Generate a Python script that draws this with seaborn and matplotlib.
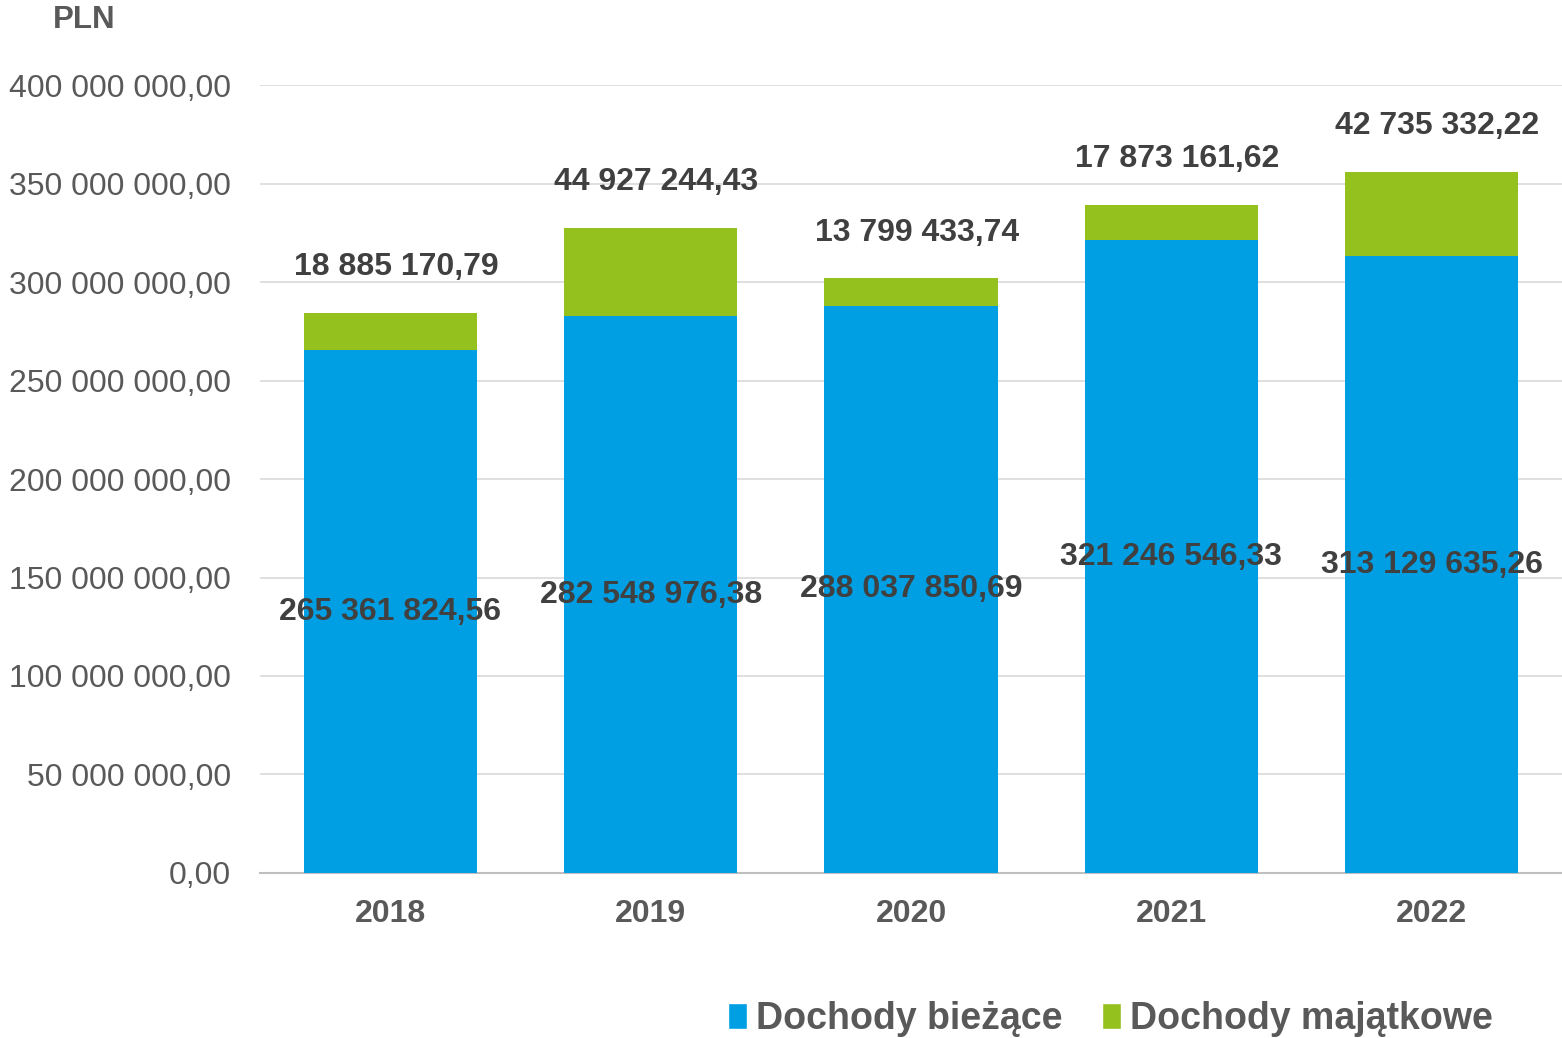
import numpy as np
import pandas as pd
import matplotlib
matplotlib.use('Agg')
import matplotlib.pyplot as plt
import seaborn as sns
from matplotlib.patches import Patch

years = ['2018', '2019', '2020', '2021', '2022']
biezace = [265361824.56, 282548976.38, 288037850.69, 321246546.33, 313129635.26]
majatkowe = [18885170.79, 44927244.43, 13799433.74, 17873161.62, 42735332.22]
yticks = [0, 50e6, 100e6, 150e6, 200e6, 250e6, 300e6, 350e6, 400e6]

BLUE = '#009FE3'
GREEN = '#95C11F'
GREY = '#595959'
DARK = '#404040'

def pl_fmt(v):
    s = f'{v:,.2f}'
    return s.replace(',', ' ').replace('.', ',')

df = pd.DataFrame({'rok': years, 'biezace': biezace, 'majatkowe': majatkowe})
df['suma'] = df['biezace'] + df['majatkowe']

sns.set_style('white')
plt.rcParams['font.family'] = ['Liberation Sans', 'DejaVu Sans']

fig = plt.figure(figsize=(15.62, 10.38), dpi=100)
ax = fig.add_axes([0.1665, 0.159, 0.8335, 0.759])

# stacked: total first (green), current on top of it (blue)
sns.barplot(data=df, x='rok', y='suma', color=GREEN, width=0.665, saturation=1,
            linewidth=0, ax=ax, zorder=2)
sns.barplot(data=df, x='rok', y='biezace', color=BLUE, width=0.665, saturation=1,
            linewidth=0, ax=ax, zorder=3)

ax.set_ylim(0, 400e6)
ax.set_xlim(-0.5, 4.5)
ax.set_yticks(yticks)
ax.set_yticklabels([pl_fmt(v) for v in yticks], fontsize=23, color=GREY)
ax.tick_params(axis='y', length=0, pad=21)
ax.tick_params(axis='x', length=0, pad=19, labelsize=23, labelcolor=GREY)
for lab in ax.get_xticklabels():
    lab.set_fontweight('bold')
ax.set_xlabel('')
ax.set_ylabel('')
ax.grid(True, axis='y', color='#D9D9D9', linewidth=1.2, zorder=0)
ax.set_axisbelow(True)
for s in ['top', 'right', 'left']:
    ax.spines[s].set_visible(False)
ax.spines['bottom'].set_color('#BFBFBF')
ax.spines['bottom'].set_linewidth(1.5)

for i, row in df.iterrows():
    ax.text(i, row['biezace'] / 2, pl_fmt(row['biezace']), ha='center', va='center',
            fontsize=23, fontweight='bold', color=DARK, zorder=5)
    ax.annotate(pl_fmt(row['majatkowe']), (i, row['suma']), xytext=(4, 33),
                textcoords='offset points', ha='center', va='center',
                fontsize=23, fontweight='bold', color=DARK, zorder=5)

fig.text(0.034, 0.981, 'PLN', fontsize=22.5, fontweight='bold', color=GREY,
         ha='left', va='center')

handles = [Patch(facecolor=BLUE, label='Dochody bieżące'),
           Patch(facecolor=GREEN, label='Dochody majątkowe')]
leg = fig.legend(handles=handles, loc='center', bbox_to_anchor=(0.711, 0.018),
                 ncol=2, frameon=False, handlelength=0.5, handleheight=0.7,
                 handletextpad=0.25, columnspacing=1.05,
                 prop={'size': 27, 'weight': 'bold'})
for t in leg.get_texts():
    t.set_color(GREY)

fig.savefig('out.png', dpi=100)
